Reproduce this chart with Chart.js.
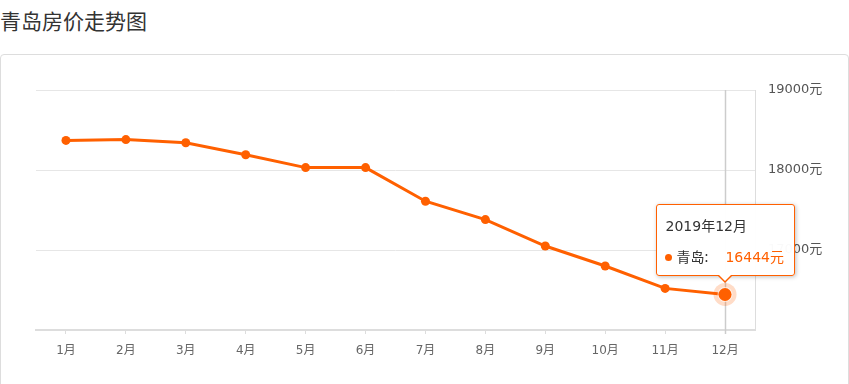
<!DOCTYPE html>
<html><head><meta charset="utf-8">
<script src="https://cdn.jsdelivr.net/npm/chart.js@4"></script>
<style>
html,body{margin:0;padding:0;width:849px;height:384px;overflow:hidden;background:#fff;font-family:"DejaVu Sans","Noto Sans CJK SC",sans-serif;}
#title{position:absolute;left:0;top:4px;font-family:"Noto Sans CJK SC",sans-serif;font-size:21px;line-height:32px;color:#333;}
#box{position:absolute;left:0;top:54px;width:847px;height:360px;border:1px solid #ddd;border-radius:4px;}
#wrap{position:absolute;left:0;top:0;width:849px;height:384px;}
#tip{position:absolute;box-sizing:border-box;width:139px;height:72px;background:rgba(255,255,255,0.97);border:1px solid #ff6000;border-radius:3px;box-shadow:1px 1px 4px rgba(0,0,0,0.25);color:#333;font-size:14px;}
#tip:after,#tip:before{content:"";position:absolute;left:50%;width:0;height:0;border-style:solid;}
#tip:before{bottom:-8px;margin-left:-8px;border-width:8px 8px 0 8px;border-color:#ff6000 transparent transparent transparent;}
#tip:after{bottom:-6px;margin-left:-7px;border-width:7px 7px 0 7px;border-color:#fff transparent transparent transparent;}
#tip .t{position:absolute;left:9px;top:11px;line-height:20px;}
#tip .b{position:absolute;left:8px;top:41px;line-height:20px;white-space:nowrap;}
#tip .dot{display:inline-block;width:7px;height:7px;border-radius:50%;background:#ff6000;margin-right:5px;vertical-align:1px;}
#tip .n{font-family:"Noto Sans CJK SC",sans-serif;}
#tip .v{color:#ff6000;font-size:14px;margin-left:17px;}
</style></head>
<body>
<div id="title">青岛房价走势图</div>
<div id="box"></div>
<div id="wrap"><canvas id="c" width="849" height="384"></canvas></div>
<div id="tip"><div class="t"></div><div class="b"><span class="dot"></span><span class="n"></span><span class="v"></span></div></div>
<script>
const categories = ['1月','2月','3月','4月','5月','6月','7月','8月','9月','10月','11月','12月'];
const seriesName = '青岛';
const prices = [18370, 18380, 18340, 18190, 18030, 18030, 17610, 17380, 17050, 16800, 16520, 16444];
const yTicks = [16000, 17000, 18000, 19000];
const yTickLabels = ['', '17000元', '18000元', '19000元'];
const unit = '元';
const activeIndex = 11;
const activeTitle = '2019年12月';

const FONT = '"DejaVu Sans", "Noto Sans CJK SC", sans-serif';
const ORANGE = '#ff6000';

const overlay = {
  id: 'overlay',
  beforeDatasetsDraw(chart) {
    const pt = chart.getDatasetMeta(0).data[activeIndex];
    const ctx = chart.ctx, a = chart.chartArea;
    ctx.save();
    ctx.strokeStyle = '#cccccc';
    ctx.lineWidth = 1.5;
    ctx.beginPath();
    ctx.moveTo(Math.round(pt.x) + 0.5, a.top);
    ctx.lineTo(Math.round(pt.x) + 0.5, a.bottom + 4);
    ctx.stroke();
    ctx.restore();
  },
  afterDatasetsDraw(chart) {
    const pt = chart.getDatasetMeta(0).data[activeIndex];
    const ctx = chart.ctx;
    ctx.save();
    ctx.fillStyle = 'rgba(255,96,0,0.22)';
    ctx.beginPath(); ctx.arc(pt.x, pt.y, 11.5, 0, Math.PI * 2); ctx.fill();
    ctx.fillStyle = 'rgba(255,255,255,0.6)';
    ctx.beginPath(); ctx.arc(pt.x, pt.y, 7.5, 0, Math.PI * 2); ctx.fill();
    ctx.fillStyle = ORANGE;
    ctx.beginPath(); ctx.arc(pt.x, pt.y, 6.5, 0, Math.PI * 2); ctx.fill();
    ctx.restore();
  }
};

const chart = new Chart(document.getElementById('c'), {
  type: 'line',
  data: {
    labels: categories,
    datasets: [{
      label: seriesName,
      data: prices,
      borderColor: ORANGE,
      backgroundColor: ORANGE,
      borderWidth: 3,
      pointRadius: 4.5,
      pointBackgroundColor: ORANGE,
      pointBorderWidth: 0,
      tension: 0,
      fill: false
    }]
  },
  options: {
    responsive: false,
    animation: false,
    events: [],
    layout: { padding: { left: 36, top: 90, right: 0, bottom: 0 } },
    plugins: { legend: { display: false }, tooltip: { enabled: false } },
    scales: {
      x: {
        offset: true,
        grid: { display: true, drawOnChartArea: false, drawTicks: true, tickLength: 4, color: '#dddddd', lineWidth: 1 },
        border: { display: true, color: '#dddddd', width: 2 },
        ticks: { color: '#666', font: { family: FONT, size: 12 }, padding: 10, maxRotation: 0, autoSkip: false },
        afterFit(s) { s.height = 54; }
      },
      y: {
        position: 'right',
        min: yTicks[0], max: yTicks[yTicks.length - 1],
        afterBuildTicks(s) { s.ticks = yTicks.map(v => ({ value: v })); },
        grid: { color: '#e6e6e6', lineWidth: 1, drawTicks: false },
        border: { display: true, color: '#dddddd', width: 1 },
        ticks: { color: '#555', font: { family: FONT, size: 13 }, padding: 13,
                 callback: (v) => yTickLabels[yTicks.indexOf(v)] },
        afterFit(s) { s.width = 94; }
      }
    }
  },
  plugins: [overlay]
});

const tip = document.getElementById('tip');
tip.querySelector('.t').textContent = activeTitle;
tip.querySelector('.n').textContent = seriesName + ':';
tip.querySelector('.v').textContent = prices[activeIndex] + unit;
const pt = chart.getDatasetMeta(0).data[activeIndex];
tip.style.left = (pt.x - 69.5) + 'px';
tip.style.top = (pt.y - 18 - 72) + 'px';
</script>
</body></html>
